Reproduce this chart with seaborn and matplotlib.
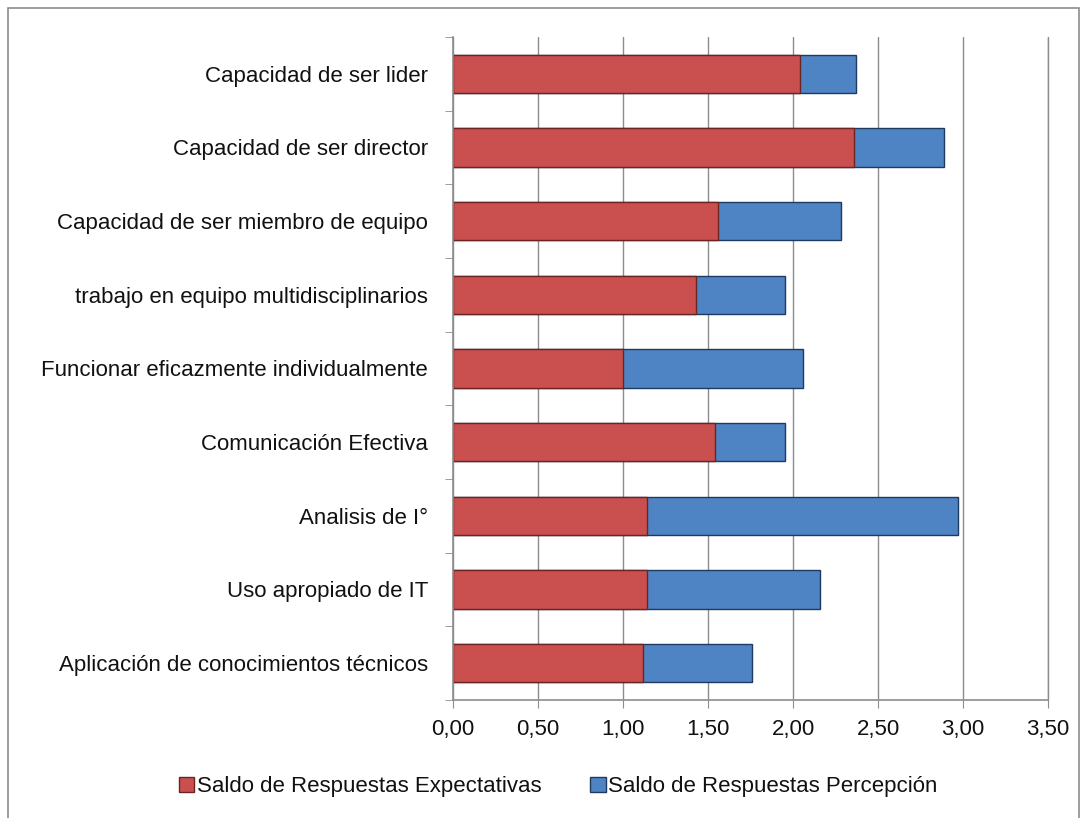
import numpy as np
import pandas as pd
import seaborn as sns
import matplotlib.pyplot as plt
from matplotlib.patches import Rectangle
from matplotlib.ticker import FixedLocator, FuncFormatter

# data (top to bottom)
categorias = [
    "Capacidad de ser lider",
    "Capacidad de ser director",
    "Capacidad de ser miembro de equipo",
    "trabajo en equipo multidisciplinarios",
    "Funcionar eficazmente individualmente",
    "Comunicación Efectiva",
    "Analisis de I°",
    "Uso apropiado de IT",
    "Aplicación de conocimientos técnicos",
]
expectativas = [2.04, 2.36, 1.56, 1.43, 1.00, 1.54, 1.14, 1.14, 1.12]
percepcion = [0.33, 0.53, 0.72, 0.52, 1.06, 0.41, 1.83, 1.02, 0.64]

df = pd.DataFrame({"cat": categorias, "exp": expectativas, "per": percepcion})
df["total"] = df["exp"] + df["per"]

sns.set_style("white")
plt.rcParams["font.family"] = ["Liberation Sans", "DejaVu Sans"]

red = "#C9504E"
blue = "#4F84C4"
grey = "#8C8C8C"

fig = plt.figure(figsize=(10.88, 8.18), dpi=100)
ax = fig.add_axes([0.4164, 0.1443, 0.5469, 0.8105])

# stacked: total in blue, expectativas in red drawn over it
sns.barplot(data=df, x="total", y="cat", color=blue, width=0.52, orient="h",
            edgecolor="#1F3A60", linewidth=1.0, saturation=1, ax=ax,
            label="Saldo de Respuestas Percepción")
sns.barplot(data=df, x="exp", y="cat", color=red, width=0.52, orient="h",
            edgecolor="#6B2422", linewidth=1.0, saturation=1, ax=ax,
            label="Saldo de Respuestas Expectativas")

ax.set_xlim(0, 3.5)
ax.set_ylim(len(categorias) - 0.5, -0.5)
ax.set_xticks(np.arange(0, 3.51, 0.5))
ax.xaxis.set_major_formatter(FuncFormatter(lambda v, p: f"{v:.2f}".replace(".", ",")))
ax.grid(axis="x", color=grey, linewidth=1.0)
ax.set_axisbelow(True)
ax.axvline(3.5, color=grey, linewidth=1.0, clip_on=False, zorder=0)

ax.set_xlabel("")
ax.set_ylabel("")
ax.tick_params(axis="y", length=0, labelsize=16, pad=18, labelcolor="#111111")
ax.tick_params(axis="x", direction="out", length=6, color=grey,
               labelsize=16, pad=8, bottom=True, labelcolor="#111111")
ax.yaxis.set_minor_locator(FixedLocator(np.arange(-0.5, len(categorias), 1.0)))
ax.tick_params(axis="y", which="minor", direction="out", length=6,
               color=grey, left=True)

for s in ["top", "right"]:
    ax.spines[s].set_visible(False)
for s in ["left", "bottom"]:
    ax.spines[s].set_color(grey)
    ax.spines[s].set_linewidth(1.2)

# legend: expectativas first
handles, labels = ax.get_legend_handles_labels()
order = [labels.index("Saldo de Respuestas Expectativas"),
         labels.index("Saldo de Respuestas Percepción")]
if ax.get_legend():
    ax.get_legend().remove()
fig.legend([handles[i] for i in order], [labels[i] for i in order],
           loc="center", bbox_to_anchor=(0.513, 0.038), ncol=2, frameon=False,
           fontsize=16, handlelength=0.7, handleheight=0.7, handletextpad=0.1,
           columnspacing=2.2, labelcolor="#111111")

# outer chart frame
fig.patches.append(Rectangle((0.007, -0.01), 0.985, 1.0, transform=fig.transFigure,
                             fill=False, edgecolor=grey, linewidth=1.2))

plt.savefig("out.png", dpi=100)
